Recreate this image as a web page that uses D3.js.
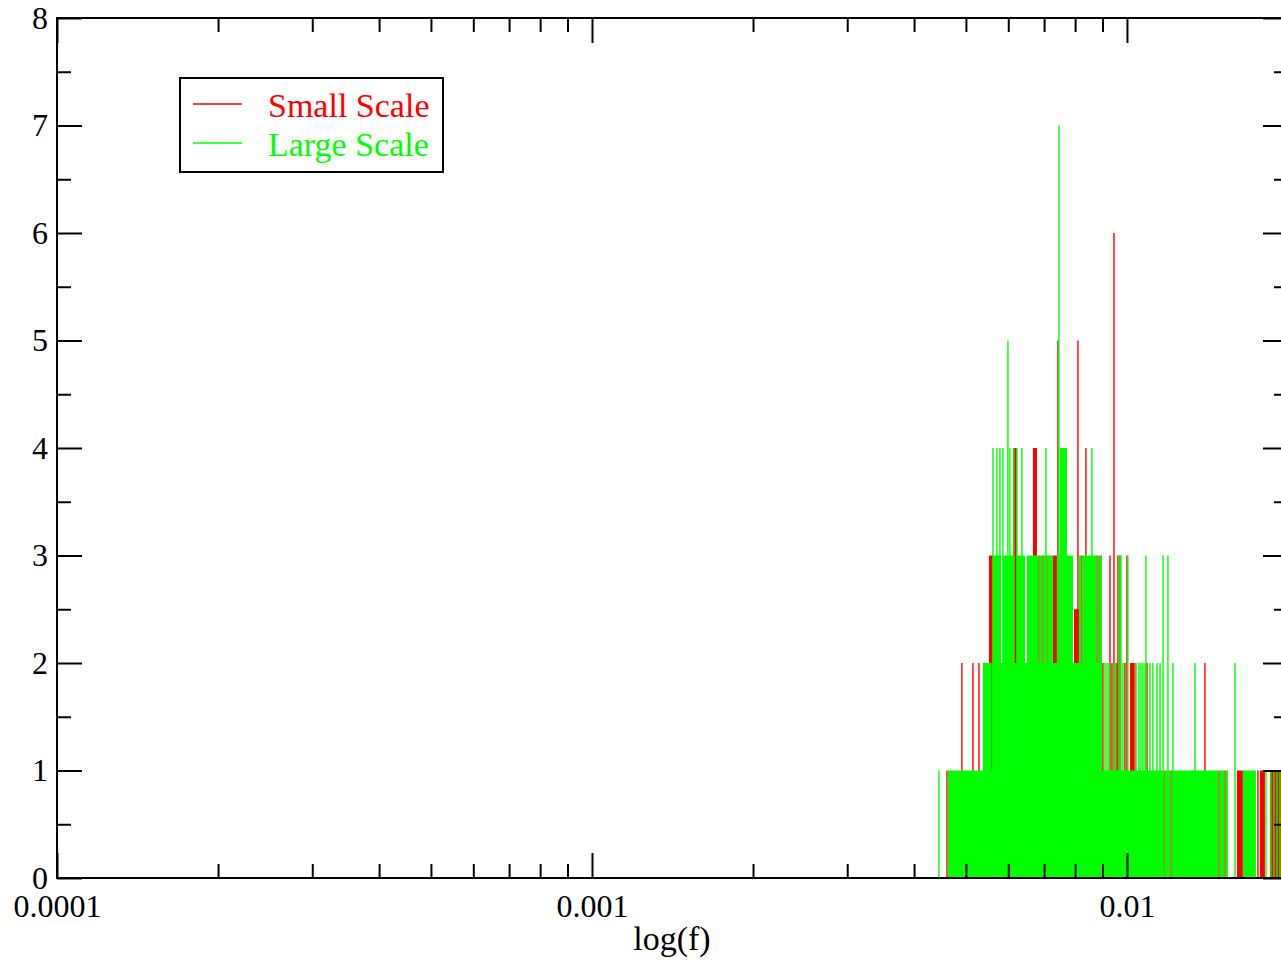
<!DOCTYPE html>
<html>
<head>
<meta charset="utf-8">
<script src="https://cdn.jsdelivr.net/npm/d3@7"></script>
<style>
  body { margin: 0; background: #fff; }
  text { font-family: "Liberation Serif", "Times New Roman", serif; }
</style>
</head>
<body>
<script>

var width = 1281;
var height = 963;
// frame: left 57, top 18, bottom 878; right edge lands just past the window
var frame = {left: 57, top: 18, right: 1288, bottom: 878};

// ticks
const xMajor = [0.0001, 0.001, 0.01];
const xMajorLabels = ["0.0001", "0.001", "0.01"];
const xMinor = [0.0002, 0.0003, 0.0004, 0.0005, 0.0006, 0.0007, 0.0008, 0.0009,
                0.002, 0.003, 0.004, 0.005, 0.006, 0.007, 0.008, 0.009, 0.02];
const yMajor = [0, 1, 2, 3, 4, 5, 6, 7, 8];
const yMinor = [0.5, 1.5, 2.5, 3.5, 4.5, 5.5, 6.5, 7.5];

const seriesNames = ["Small Scale", "Large Scale"];

// histogram: [f start, f end, count] runs and [f, count] single drops
const greenBands = [
  [0.004625, 0.01170, 1], [0.01176, 0.01206, 1], [0.01212, 0.01482, 1], [0.01490, 0.01521, 1],
  [0.01529, 0.01544, 1], [0.01647, 0.01742, 1],
  [0.005380, 0.005586, 2], [0.005600, 0.008980, 2],
  [0.005617, 0.005813, 3], [0.005863, 0.006158, 3], [0.006228, 0.006446, 3], [0.006502, 0.006832, 3],
  [0.006862, 0.006951, 3], [0.006981, 0.007071, 3], [0.007102, 0.007272, 3], [0.007398, 0.007926, 3],
  [0.008133, 0.008220, 3], [0.008256, 0.008771, 3], [0.008809, 0.008884, 3], [0.008922, 0.008980, 3],
  [0.007494, 0.007723, 4]
];
const greenSpikes = [
  [0.004451, 1], [0.01819, 1], [0.01858, 1], [0.01883, 1], [0.01907, 1], [0.01932, 1], [0.01957, 1], [0.01982, 1],
  [0.009098, 2], [0.009176, 2], [0.009255, 2], [0.009456, 2], [0.009517, 2], [0.009829, 2], [0.01040, 2],
  [0.01053, 2], [0.01062, 2], [0.01071, 2], [0.01081, 2], [0.01104, 2], [0.01118, 2], [0.01138, 2],
  [0.01153, 2], [0.01219, 2], [0.01340, 2], [0.01592, 2],
  [0.008941, 3], [0.009662, 3], [0.009745, 3], [0.01004, 3], [0.01085, 3], [0.01168, 3], [0.01193, 3],
  [0.005617, 4], [0.005714, 4], [0.005788, 4], [0.005863, 4], [0.006043, 4], [0.006146, 4], [0.006228, 4],
  [0.006363, 4], [0.007056, 4], [0.008601, 4],
  [0.005991, 5],
  [0.007462, 7]
];
const redBands = [
  [0.005521, 0.005617, 3], [0.006121, 0.006228, 4], [0.006672, 0.006788, 4], [0.007272, 0.007398, 3],
  [0.007960, 0.008133, 2.5], [0.01013, 0.01031, 2], [0.01605, 0.01647, 1], [0.01772, 0.01811, 1],
  [0.01850, 0.02, 1]
];
const redSpikes = [
  [0.004609, 1], [0.01173, 1], [0.01209, 1], [0.01486, 1], [0.01525, 1], [0.01757, 1],
  [0.004914, 2], [0.005154, 2], [0.005289, 2], [0.005593, 2], [0.009018, 2], [0.009375, 2],
  [0.009579, 2], [0.009914, 2], [0.01035, 2], [0.01090, 2], [0.01399, 2],
  [0.006847, 3], [0.006966, 3], [0.007087, 3], [0.008238, 3], [0.008790, 3], [0.008903, 3],
  [0.009295, 3], [0.009620, 3], [0.009703, 3], [0.01000, 3],
  [0.008381, 4],
  [0.007430, 5], [0.008098, 5],
  [0.009456, 6]
];

var xScale = d3.scaleLog()
    .domain([0.0001, 0.02])
    .range([frame.left, frame.right]);
var yScale = d3.scaleLinear()
    .domain([0, 8])
    .range([frame.bottom, frame.top]);

let svg = d3.select('body')
  .append('svg')
    .attr('width', width)
    .attr('height', height);

svg.append('defs').append('clipPath').attr('id', 'plot')
  .append('rect')
    .attr('x', frame.left).attr('y', frame.top)
    .attr('width', frame.right - frame.left).attr('height', frame.bottom - frame.top);

let plot = svg.append('g').attr('clip-path', 'url(#plot)');

function drawBands(rows, color) {
  plot.append('g').selectAll('rect')
    .data(rows)
    .enter().append('rect')
      .attr('x', d => xScale(d[0]))
      .attr('width', d => Math.max(1.2, xScale(d[1]) - xScale(d[0])))
      .attr('y', d => yScale(d[2]))
      .attr('height', d => yScale(0) - yScale(d[2]))
      .attr('fill', color);
}
function drawSpikes(rows, color, w) {
  plot.append('g').selectAll('rect')
    .data(rows)
    .enter().append('rect')
      .attr('x', d => xScale(d[0]) - w / 2)
      .attr('width', w)
      .attr('y', d => yScale(d[1]))
      .attr('height', d => yScale(0) - yScale(d[1]))
      .attr('fill', color);
}

// small scale first, large scale drawn over it
drawBands(redBands, '#ff0000');
drawSpikes(redSpikes, '#ff0000', 1.4);
drawBands(greenBands, '#00ff00');
drawSpikes(greenSpikes, '#00ff00', 1.4);

// axes, ticks pointing inward on all four sides
function styleAxis(g) {
  g.select('.domain').remove();
  g.selectAll('line').attr('stroke', '#000').attr('stroke-width', 2);
  g.selectAll('text')
    .attr('font-family', '"Liberation Serif", "Times New Roman", serif')
    .attr('font-size', 32)
    .attr('fill', '#000');
}

svg.append('g')
    .attr('transform', 'translate(0,' + frame.bottom + ')')
    .call(d3.axisBottom(xScale).tickValues(xMajor).tickSize(-25).tickPadding(16)
      .tickFormat(d => xMajorLabels[xMajor.indexOf(d)]))
    .call(styleAxis);
svg.append('g')
    .attr('transform', 'translate(0,' + frame.bottom + ')')
    .call(d3.axisBottom(xScale).tickValues(xMinor).tickSize(-14).tickFormat(''))
    .call(styleAxis);
svg.append('g')
    .attr('transform', 'translate(0,' + frame.top + ')')
    .call(d3.axisTop(xScale).tickValues(xMajor).tickSize(-25).tickFormat(''))
    .call(styleAxis);
svg.append('g')
    .attr('transform', 'translate(0,' + frame.top + ')')
    .call(d3.axisTop(xScale).tickValues(xMinor).tickSize(-14).tickFormat(''))
    .call(styleAxis);

svg.append('g')
    .attr('transform', 'translate(' + frame.left + ',0)')
    .call(d3.axisLeft(yScale).tickValues(yMajor).tickSize(-25).tickPadding(9).tickFormat(d3.format('d')))
    .call(styleAxis);
svg.append('g')
    .attr('transform', 'translate(' + frame.left + ',0)')
    .call(d3.axisLeft(yScale).tickValues(yMinor).tickSize(-14).tickFormat(''))
    .call(styleAxis);
svg.append('g')
    .attr('transform', 'translate(' + frame.right + ',0)')
    .call(d3.axisRight(yScale).tickValues(yMajor).tickSize(-25).tickFormat(''))
    .call(styleAxis);
svg.append('g')
    .attr('transform', 'translate(' + frame.right + ',0)')
    .call(d3.axisRight(yScale).tickValues(yMinor).tickSize(-14).tickFormat(''))
    .call(styleAxis);

svg.append('rect')
    .attr('x', frame.left).attr('y', frame.top)
    .attr('width', frame.right - frame.left).attr('height', frame.bottom - frame.top)
    .attr('fill', 'none').attr('stroke', '#000').attr('stroke-width', 2);

svg.append('text')
    .attr('x', 672).attr('y', 950)
    .attr('text-anchor', 'middle')
    .attr('font-size', 34)
    .text('log(f)');

// legend
let legend = svg.append('g');
legend.append('rect')
    .attr('x', 180).attr('y', 78).attr('width', 263).attr('height', 94)
    .attr('fill', '#fff').attr('stroke', '#000').attr('stroke-width', 2);
const legendColors = ['#ff0000', '#00ff00'];
seriesNames.forEach(function(name, i) {
  let yy = 104 + i * 39;
  legend.append('line')
      .attr('x1', 193).attr('x2', 242).attr('y1', yy).attr('y2', yy)
      .attr('stroke', legendColors[i]).attr('stroke-width', 1.5);
  legend.append('text')
      .attr('x', 268).attr('y', yy + 13)
      .attr('font-size', 34)
      .attr('fill', legendColors[i])
      .text(name);
});

</script>
</body>
</html>
